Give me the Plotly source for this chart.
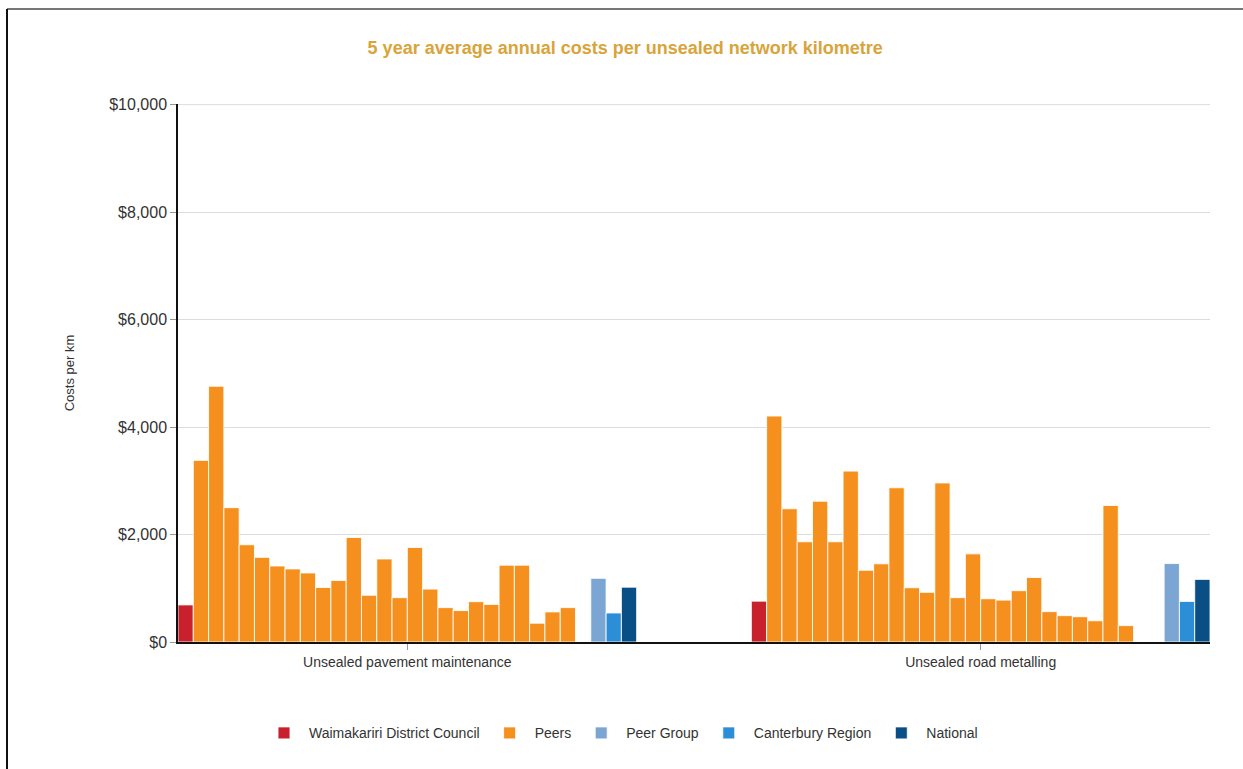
import plotly.graph_objects as go

# Cost categories along the x axis
categories = ["Unsealed pavement maintenance", "Unsealed road metalling"]

# 5 year average annual cost per unsealed network km ($)
waimakariri = [690, 760]
peers_maintenance = [3380, 4760, 2500, 1810, 1575, 1415, 1360, 1285, 1015, 1145,
                     1945, 870, 1545, 825, 1760, 985, 640, 585, 750, 700,
                     1430, 1430, 350, 560, 640]
peers_metalling = [4205, 2480, 1865, 2620, 1865, 3180, 1335, 1455, 2870, 1010,
                   925, 2960, 825, 1640, 805, 780, 955, 1200, 565, 490,
                   470, 395, 2540, 305]
peer_group = [1185, 1460]
canterbury = [540, 755]
national = [1020, 1165]

# y axis ticks
y_tick_values = [0, 2000, 4000, 6000, 8000, 10000]
y_tick_labels = ["$0", "$2,000", "$4,000", "$6,000", "$8,000", "$10,000"]
y_max = 10000

# Number of peer councils (some have no figure for a category)
n_peers = 26

colors = {
    "Waimakariri District Council": "#C8202C",
    "Peers": "#F5901F",
    "Peer Group": "#7BA6D3",
    "Canterbury Region": "#2C8ED7",
    "National": "#0A4E86",
}

font_family = "Liberation Sans Narrow, Arial Narrow, Liberation Sans, Arial, sans-serif"

def pad(values, n):
    return list(values) + [None] * (n - len(values))

pm = pad(peers_maintenance, n_peers)
pr = pad(peers_metalling, n_peers)

outline = dict(color="rgba(255,255,255,0.85)", width=1)

fig = go.Figure()
fig.add_trace(go.Bar(
    x=categories, y=waimakariri, name="Waimakariri District Council",
    marker=dict(color=colors["Waimakariri District Council"], line=outline),
    legendrank=1,
))
for i in range(n_peers):
    fig.add_trace(go.Bar(
        x=categories, y=[pm[i], pr[i]], name="Peers",
        legendgroup="Peers", showlegend=(i == 0),
        marker=dict(color=colors["Peers"], line=outline),
        legendrank=2,
    ))
for name, vals, rank in [("Peer Group", peer_group, 3),
                         ("Canterbury Region", canterbury, 4),
                         ("National", national, 5)]:
    fig.add_trace(go.Bar(
        x=categories, y=vals, name=name,
        marker=dict(color=colors[name], line=outline),
        legendrank=rank,
    ))

fig.update_layout(
    width=1243, height=769,
    margin=dict(l=178, r=33, t=104, b=127),
    paper_bgcolor="white", plot_bgcolor="white",
    barmode="group", bargap=0.2, bargroupgap=0,
    font=dict(family=font_family, color="#333333"),
    title=dict(
        text="<b>5 year average annual costs per unsealed network kilometre</b>",
        x=0.503, xanchor="center", y=0.938, yanchor="middle",
        font=dict(size=18, color="#D9A43A", family=font_family),
    ),
    showlegend=True,
    legend=dict(
        orientation="h", x=(621 - 178) / 1032, xanchor="center", y=-0.14, yanchor="top",
        font=dict(size=14, color="#333333"), traceorder="normal",
        itemwidth=40,
    ),
    xaxis=dict(
        type="category", range=[-0.4, 1.4],
        showline=True, linecolor="#111111", linewidth=2,
        ticks="outside", ticklen=6, tickcolor="#999999",
        tickfont=dict(size=14, color="#333333"),
        showgrid=False,
    ),
    yaxis=dict(
        range=[0, 10012], tickvals=y_tick_values, ticktext=y_tick_labels,
        showline=True, linecolor="#111111", linewidth=1.5,
        ticks="outside", ticklen=6, tickcolor="#999999",
        tickfont=dict(size=16, color="#333333"),
        showgrid=True, gridcolor="#dddddd", gridwidth=1,
        zeroline=False,
        title=dict(text="Costs per km", font=dict(size=13, color="#333333"), standoff=32),
    ),
    shapes=[
        # top gridline at the axis maximum
        dict(type="line", xref="paper", yref="y", x0=0, x1=1, y0=y_max, y1=y_max,
             line=dict(color="#dddddd", width=1), layer="below"),
        # thin frame on the top and left of the page
        dict(type="line", xref="paper", yref="paper",
             x0=(7 - 178) / 1032, x1=(1243 - 178) / 1032,
             y0=(769 - 127 - 9) / 538, y1=(769 - 127 - 9) / 538,
             line=dict(color="#777777", width=2)),
        dict(type="line", xref="paper", yref="paper",
             x0=(7 - 178) / 1032, x1=(7 - 178) / 1032,
             y0=(769 - 127 - 9) / 538, y1=-127 / 538,
             line=dict(color="#111111", width=2)),
    ],
)

fig.write_html("out.html")
